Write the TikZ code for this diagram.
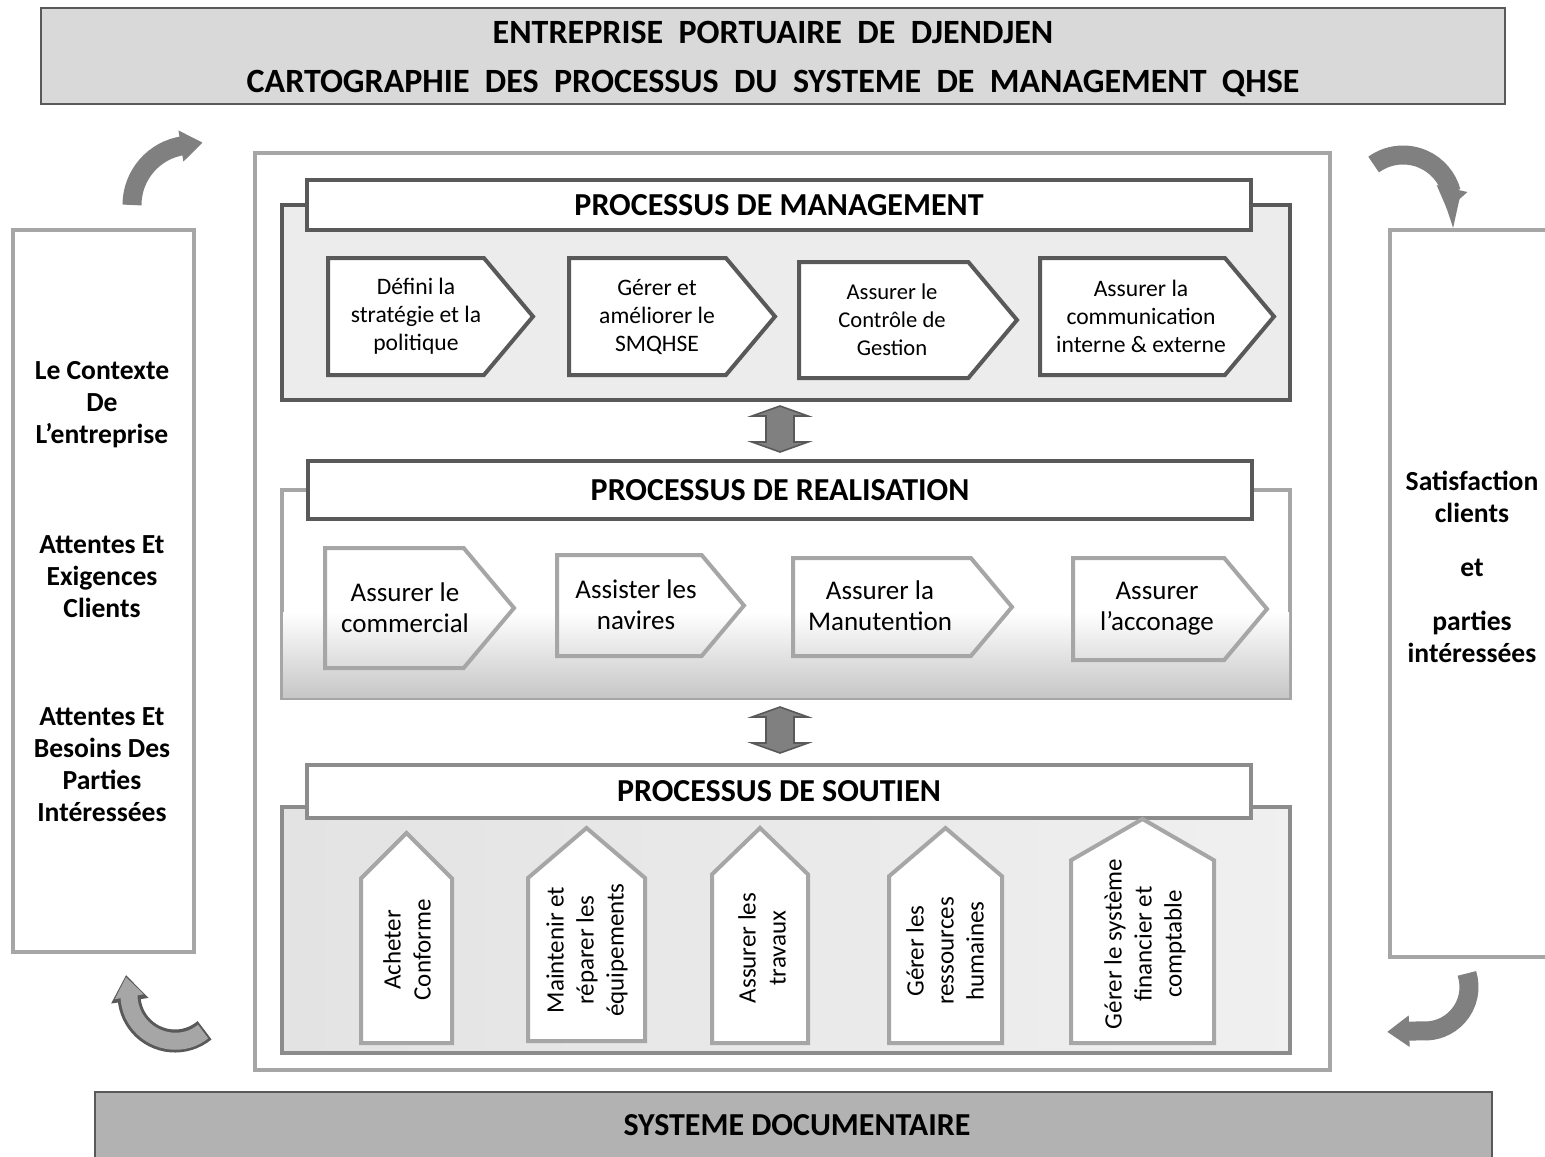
\documentclass[tikz,border=0pt]{standalone}
\usepackage{fontspec}
\setmainfont{Carlito}
\usepackage{xcolor}
\usetikzlibrary{arrows.meta,shapes.symbols}
\definecolor{dzdzdz}{rgb}{0.85,0.85,0.85}
\definecolor{vzvzvz}{rgb}{0.35,0.35,0.35}
\definecolor{yqyqyq}{rgb}{0.5,0.5,0.5}
\definecolor{awawaw}{rgb}{0.65,0.65,0.65}
\definecolor{ycycyc}{rgb}{0.55,0.55,0.55}
\definecolor{ececec}{rgb}{0.925,0.925,0.925}
\definecolor{bsbsbs}{rgb}{0.7,0.7,0.7}
\tikzset{
  bighead/.style={font=\fontsize{16}{20}\selectfont\bfseries},
  side/.style={font=\fontsize{13.8}{16}\selectfont\bfseries,align=center},
  head/.style={draw=vzvzvz,line width=2pt,fill=white,minimum width=472pt,bighead},
  chev/.style={signal,signal to=east,signal pointer angle=100,anchor=west,inner sep=0pt},
  mchev/.style={chev,draw=vzvzvz,line width=2pt,fill=white,minimum height=58.5pt},
  rchev/.style={chev,draw=awawaw,line width=2pt},
  schev/.style={chev,draw=awawaw,line width=2pt,fill=white,rotate=90},
  mtext/.style={align=center,font=\fontsize{11.8}{14}\selectfont},
  rtext/.style={align=center,font=\fontsize{13.5}{15.5}\selectfont},
  stext/.style={align=center,rotate=90,font=\fontsize{12.5}{15}\selectfont},
  turn/.style={line width=9.5pt,draw=yqyqyq,-{Triangle[width=15pt,length=11pt]}},
  updown/.style={draw=vzvzvz,line width=0.8pt,fill=yqyqyq}
}
\begin{document}
\begin{tikzpicture}[line cap=butt,line join=miter,x=0.5pt,y=-0.5pt]
\useasboundingbox (0,0) rectangle (1545,1156);
% title banner
\draw [line width=1pt,draw=vzvzvz,fill=dzdzdz] (41,8) rectangle (1505,104);
\node [bighead,font=\fontsize{17}{20}\selectfont\bfseries] (entreprise) at (773,32) {ENTREPRISE\ \ PORTUAIRE\ \ DE\ \ DJENDJEN};
\node [bighead,font=\fontsize{17}{20}\selectfont\bfseries] (carto) at (773,83) {CARTOGRAPHIE\ \ DES\ \ PROCESSUS\ \ DU\ \ SYSTEME\ \ DE\ \ MANAGEMENT\ \ QHSE};
% outer frames
\draw [line width=2pt,draw=awawaw,fill=white] (255,153) rectangle (1330,1070);
\draw [line width=2pt,draw=awawaw,fill=white] (13,230) rectangle (194,952);
\draw [line width=2pt,draw=awawaw,fill=white] (1390,230) rectangle (1570,957);
% left and right texts
\node [side] (contexte) at (102,405) {Le Contexte\\De\\L’entreprise};
\node [side] (clients) at (102,577) {Attentes Et\\Exigences\\Clients};
\node [side] (parties) at (102,765) {Attentes Et\\Besoins Des\\Parties\\Intéressées};
\node [side] (satisf) at (1472,497) {Satisfaction\\clients};
\node [side] (et) at (1472,568) {et};
\node [side] (interess) at (1472,637) {parties\\intéressées};
% curved arrows in the corners
\draw [turn] ([shift={(192,205)}]180:60) arc [start angle=180,end angle=262,radius=60] -- ++(19,-3);
\draw [turn] ([shift={(1403,205)}]234:50) arc [start angle=234,end angle=345,radius=50] -- ++(-4,18);
\draw [turn] ([shift={(1425,987)}]-18:44) arc [start angle=-18,end angle=95,radius=44] -- ++(-34,1);
\draw [line width=11.5pt,draw=vzvzvz,-{Triangle[width=18pt,length=13pt]}] ([shift={(175,995)}]50:46) arc [start angle=50,end angle=180,radius=46] -- ++(-3,-20);
\draw [line width=8.5pt,draw=awawaw,shorten <=1pt,-{Triangle[width=14pt,length=10pt]}] ([shift={(175,995)}]50:46) arc [start angle=50,end angle=180,radius=46] -- ++(-3,-18);
% management
\draw [line width=2pt,draw=vzvzvz,fill=ececec] (282,205) rectangle (1290,400);
\node [head,minimum height=25pt] (mgmt) at (779,205) {PROCESSUS DE MANAGEMENT};
\node [mchev,minimum width=102.5pt] (m1) at (326,316.5) {};
\node [mchev,minimum width=103pt] (m2) at (567,316.5) {};
\node [mchev,minimum width=109pt,minimum height=58pt] (m3) at (797,320) {};
\node [mchev,minimum width=117pt] (m4) at (1038,316.5) {};
\node [mtext] (m1t) at (416,316) {Défini la\\stratégie et la\\politique};
\node [mtext] (m2t) at (657,317) {Gérer et\\améliorer le\\SMQHSE};
\node [mtext,font=\fontsize{11.3}{14}\selectfont] (m3t) at (892,320) {Assurer le\\Contrôle de\\Gestion};
\node [mtext] (m4t) at (1141,316) {Assurer la\\communication\\interne \& externe};
% double arrows between the groups
\foreach \y in {406,707}
  \draw [updown] (780,\y) -- ++(28,10) -- ++(-14,0) -- ++(0,26) -- ++(14,0) -- ++(-28,10)
    -- ++(-28,-10) -- ++(14,0) -- ++(0,-26) -- ++(-14,0) -- cycle;
% realisation
\draw [line width=2pt,draw=awawaw,fill=white] (282,490) rectangle (1290,698);
\shade [top color=white,bottom color=black!22] (283,612) rectangle (1289,697);
\node [head,minimum height=29pt] (real) at (780,490) {PROCESSUS DE REALISATION};
\node [rchev,minimum width=94.5pt,minimum height=60pt] (r1) at (323,608) {};
\node [rchev,minimum width=93.5pt,minimum height=50.5pt] (r2) at (555,605.5) {};
\node [rchev,minimum width=109.5pt,minimum height=49pt] (r3) at (791,607) {};
\node [rchev,minimum width=97pt,minimum height=51pt] (r4) at (1071,609) {};
\node [rtext] (r1t) at (405,608) {Assurer le\\commercial};
\node [rtext] (r2t) at (636,605) {Assister les\\navires};
\node [rtext] (r3t) at (880,606) {Assurer la\\Manutention};
\node [rtext] (r4t) at (1157,609) {Assurer\\l’acconage};
% soutien
\shade [draw=ycycyc,line width=2pt,left color=black!11,right color=black!6] (282,807) rectangle (1290,1053);
\node [head,draw=ycycyc,minimum height=26.5pt] (soutien) at (779,791.5) {PROCESSUS DE SOUTIEN};
\node [schev,minimum width=105pt,minimum height=45.5pt,signal pointer angle=90] (s1) at (406.5,1045) {};
\node [schev,minimum width=106.5pt,minimum height=58.5pt,signal pointer angle=99] (s2) at (586.5,1043) {};
\node [schev,minimum width=107.5pt,minimum height=48pt,signal pointer angle=92] (s3) at (760,1045) {};
\node [schev,minimum width=107.5pt,minimum height=56.5pt,signal pointer angle=99] (s4) at (945.5,1045) {};
\node [schev,minimum width=112pt,minimum height=71.5pt,signal pointer angle=120] (s5) at (1142.5,1045) {};
\node [stext] (s1t) at (407,950) {Acheter\\Conforme};
\node [stext] (s2t) at (587,950) {Maintenir et\\réparer les\\équipements};
\node [stext] (s3t) at (762,948) {Assurer les\\travaux};
\node [stext] (s4t) at (945,951) {Gérer les\\ressources\\humaines};
\node [stext] (s5t) at (1145,944) {Gérer le système\\financier et\\comptable};
% documentation banner
\draw [line width=1pt,draw=vzvzvz,fill=bsbsbs] (95,1092) rectangle (1492,1180);
\node [bighead] (doc) at (797,1125) {SYSTEME DOCUMENTAIRE};
\end{tikzpicture}
\end{document}
